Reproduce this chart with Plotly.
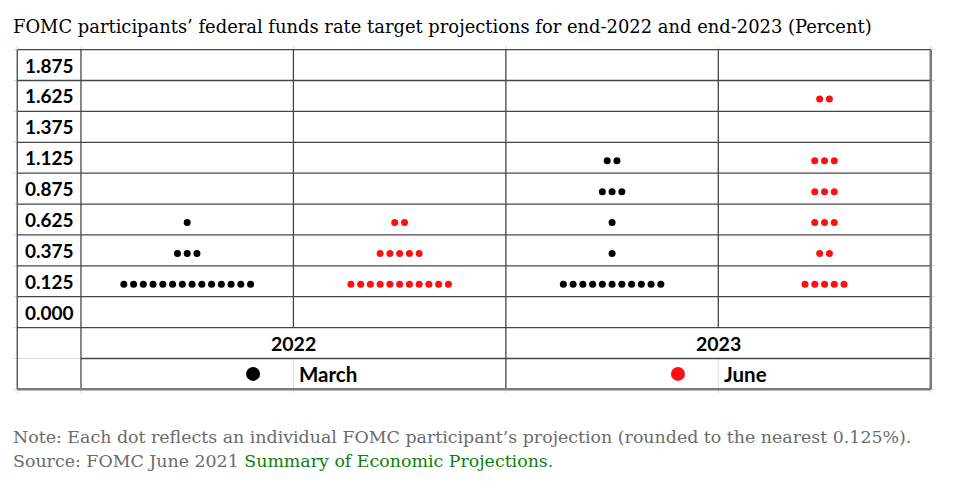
import plotly.graph_objects as go

# ---- data ----
rate_labels = ["0.000", "0.125", "0.375", "0.625", "0.875", "1.125", "1.375", "1.625", "1.875"]
year_labels = ["2022", "2023"]
series_names = ["March", "June"]
# number of participants at each rate level (same order as rate_labels)
march_2022 = [0, 14, 3, 1, 0, 0, 0, 0, 0]
june_2022 = [0, 11, 5, 2, 0, 0, 0, 0, 0]
march_2023 = [0, 11, 1, 1, 3, 2, 0, 0, 0]
june_2023 = [0, 5, 2, 3, 3, 3, 0, 2, 0]

# ---- styling ----
BLACK = "#000000"
RED = "#ff1010"
LINE = "#474747"
EDGE = "#7a7a7a"
FAINT = "#dcdcdc"
TABLE_FONT = "Lato"
SERIF = "DejaVu Serif"
DOT_STEP = 0.0459     # horizontal spacing between dots (column units)
DOT_DROP = 0.10       # dots sit slightly below row centre
LABEL_W = 0.3         # width of the label column

columns = [
    (march_2022, BLACK, 0.5),
    (june_2022, RED, 1.5),
    (march_2023, BLACK, 2.5),
    (june_2023, RED, 3.5),
]

fig = go.Figure()

for counts, color, cx in columns:
    xs, ys = [], []
    for row, n in enumerate(counts):
        for i in range(n):
            xs.append(cx + (i - (n - 1) / 2) * DOT_STEP)
            ys.append(row - DOT_DROP)
    fig.add_trace(go.Scatter(x=xs, y=ys, mode="markers",
                             marker=dict(size=7, color=color, line=dict(width=0)),
                             showlegend=False, hoverinfo="skip"))

# legend cells inside the table
legend_colors = [BLACK, RED]
for k, (name, color) in enumerate(zip(series_names, legend_colors)):
    bx = 1 + 2 * k
    fig.add_trace(go.Scatter(x=[bx - 0.19], y=[-2], mode="markers",
                             marker=dict(size=14, color=color, line=dict(width=0)),
                             showlegend=False, hoverinfo="skip"))
    fig.add_annotation(x=bx + 0.018, y=-2, xref="x", yref="y", text="<b>%s</b>" % name,
                       showarrow=False, xanchor="left", yanchor="middle",
                       font=dict(family=TABLE_FONT, size=20.5, color="#000"))

# row labels
for row, lab in enumerate(rate_labels):
    fig.add_annotation(x=-0.022, y=row, xref="x", yref="y", text="<b>%s</b>" % lab,
                       showarrow=False, xanchor="right", yanchor="middle",
                       font=dict(family=TABLE_FONT, size=19, color="#000"))

# year labels
for k, yl in enumerate(year_labels):
    fig.add_annotation(x=1 + 2 * k, y=-1, xref="x", yref="y", text="<b>%s</b>" % yl,
                       showarrow=False, xanchor="center", yanchor="middle",
                       font=dict(family=TABLE_FONT, size=19.5, color="#000"))

# ---- grid lines ----
shapes = []
def seg(x0, y0, x1, y1, color=LINE, width=1.3):
    shapes.append(dict(type="line", xref="x", yref="y", x0=x0, y0=y0, x1=x1, y1=y1,
                       line=dict(color=color, width=width)))

nrows = len(rate_labels)
top = nrows - 0.5
bottom = -2.5
left = -LABEL_W
right = 4.0

# faint spreadsheet extensions
for r in range(-2, nrows + 1):
    yy = r - 0.5
    seg(left - 0.02, yy, left, yy, FAINT, 1)
    seg(right, yy, right + 0.02, yy, FAINT, 1)
for xx in [left, 0, 1, 2, 3, right]:
    seg(xx, top, xx, top + 0.12, FAINT, 1)
    seg(xx, bottom, xx, bottom - 0.12, FAINT, 1)

# faint lines inside merged/borderless cells
seg(left, -1.5, 0, -1.5, FAINT, 1)
seg(1, -2.5, 1, -1.5, FAINT, 1)
seg(3, -2.5, 3, -1.5, FAINT, 1)

# horizontal lines
for r in range(0, nrows + 1):
    seg(left, r - 0.5, right, r - 0.5)
seg(0, -1.5, right, -1.5)
# vertical lines
seg(left, bottom, left, top)
seg(0, bottom, 0, top)
seg(2, bottom, 2, top)
seg(1, -0.5, 1, top)
seg(3, -0.5, 3, top)
# outer right / bottom edge
seg(right, bottom, right, top, EDGE, 2.5)
seg(left, bottom, right, bottom, EDGE, 2.5)

# ---- title and notes ----
fig.add_annotation(x=-0.002, y=1.052, xref="paper", yref="paper",
                   text="FOMC participants’ federal funds rate target projections for end-2022 and end-2023 (Percent)",
                   showarrow=False, xanchor="left", yanchor="middle",
                   font=dict(family=SERIF, size=17.9, color="#000"))
fig.add_annotation(x=-0.002, y=-0.123, xref="paper", yref="paper",
                   text="Note: Each dot reflects an individual FOMC participant’s projection (rounded to the nearest 0.125%).",
                   showarrow=False, xanchor="left", yanchor="middle",
                   font=dict(family=SERIF, size=17.4, color="#6b6b6b"))
fig.add_annotation(x=-0.002, y=-0.192, xref="paper", yref="paper",
                   text="Source: FOMC June 2021 <span style='color:#0b7f0b'>Summary of Economic Projections</span>.",
                   showarrow=False, xanchor="left", yanchor="middle",
                   font=dict(family=SERIF, size=17.4, color="#6b6b6b"))

fig.update_layout(
    width=946, height=480,
    margin=dict(l=5, r=19, t=37, b=94, pad=0),
    paper_bgcolor="white", plot_bgcolor="white",
    shapes=shapes,
    xaxis=dict(range=[left - 0.02, right + 0.02], visible=False, fixedrange=True),
    yaxis=dict(range=[bottom - 0.15, top + 0.15], visible=False, fixedrange=True),
    showlegend=False,
)

fig.write_html("out.html")
